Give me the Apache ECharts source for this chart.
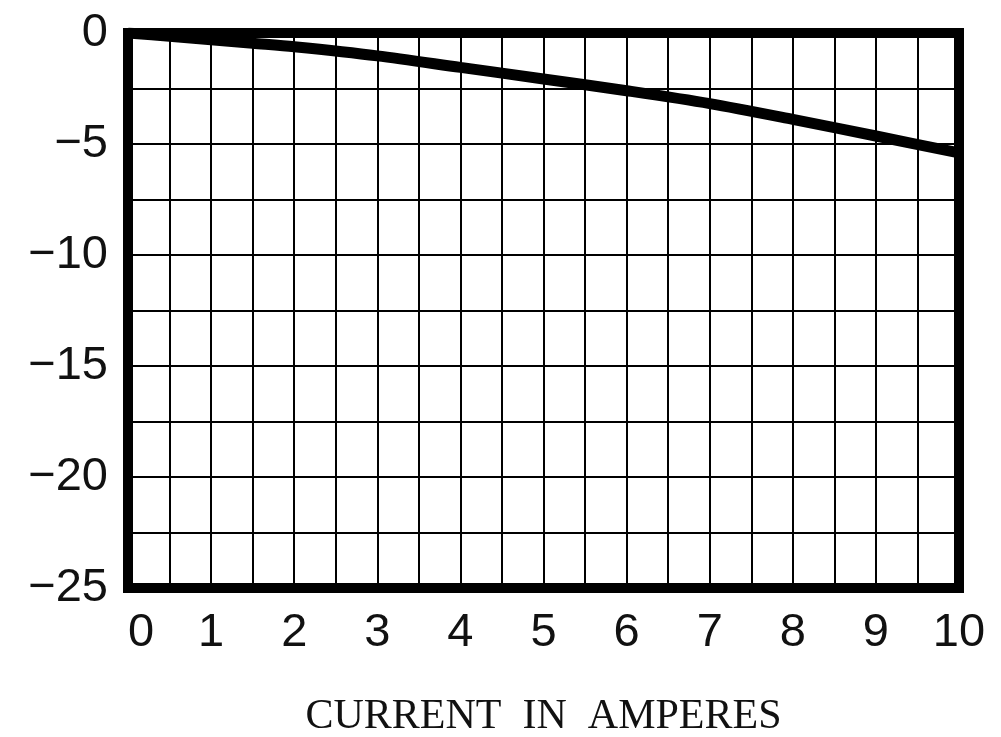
<!DOCTYPE html>
<html>
<head>
<meta charset="utf-8">
<script src="https://cdn.jsdelivr.net/npm/echarts@6/dist/echarts.min.js"></script>
<style>
  html, body { margin: 0; padding: 0; background: #fff; }
  #main { width: 1001px; height: 737px; }
</style>
</head>
<body>
<div id="main"></div>
<script>
// current (A) vs reading
const current = [0, 0.5, 1, 1.5, 2, 3, 4, 5, 6, 7, 8, 9, 10];
const reading = [0, -0.15, -0.3, -0.46, -0.62, -1.03, -1.55, -2.07, -2.6, -3.18, -3.89, -4.64, -5.4];
const xTitle = 'CURRENT  IN  AMPERES';

const chart = echarts.init(document.getElementById('main'));

const gridLine = { show: true, lineStyle: { color: '#000', width: 2 } };

chart.setOption({
  animation: false,
  grid: {
    left: 128, right: 42, top: 33, bottom: 149,
    outerBoundsMode: 'none',
    show: true, borderColor: '#000', borderWidth: 10, backgroundColor: '#fff'
  },
  xAxis: {
    type: 'value',
    min: 0, max: 10, interval: 1,
    name: xTitle,
    nameLocation: 'middle',
    nameGap: 108,
    nameTextStyle: { fontFamily: 'Liberation Serif', fontSize: 42, color: '#111' },
    axisLine: { show: true, lineStyle: { color: '#000', width: 10 } },
    axisTick: { show: false },
    axisLabel: { margin: 22, fontFamily: 'Liberation Sans', fontSize: 47, color: '#111', alignMinLabel: 'left' },
    splitLine: gridLine,
    minorTick: { show: false, splitNumber: 2 },
    minorSplitLine: gridLine
  },
  yAxis: {
    type: 'value',
    min: -25, max: 0, interval: 5,
    axisLine: { show: true, lineStyle: { color: '#000', width: 10 } },
    axisTick: { show: false },
    axisLabel: {
      margin: 20, fontFamily: 'Liberation Sans', fontSize: 47, color: '#111',
      formatter: v => (v < 0 ? '\u2212' + Math.abs(v) : String(v))
    },
    splitLine: gridLine,
    minorTick: { show: false, splitNumber: 2 },
    minorSplitLine: gridLine
  },
  series: [{
    type: 'line',
    data: current.map((c, i) => [c, reading[i]]),
    showSymbol: false,
    smooth: 0.3,
    lineStyle: { color: '#000', width: 11 },
    z: 5
  }]
});
</script>
</body>
</html>
